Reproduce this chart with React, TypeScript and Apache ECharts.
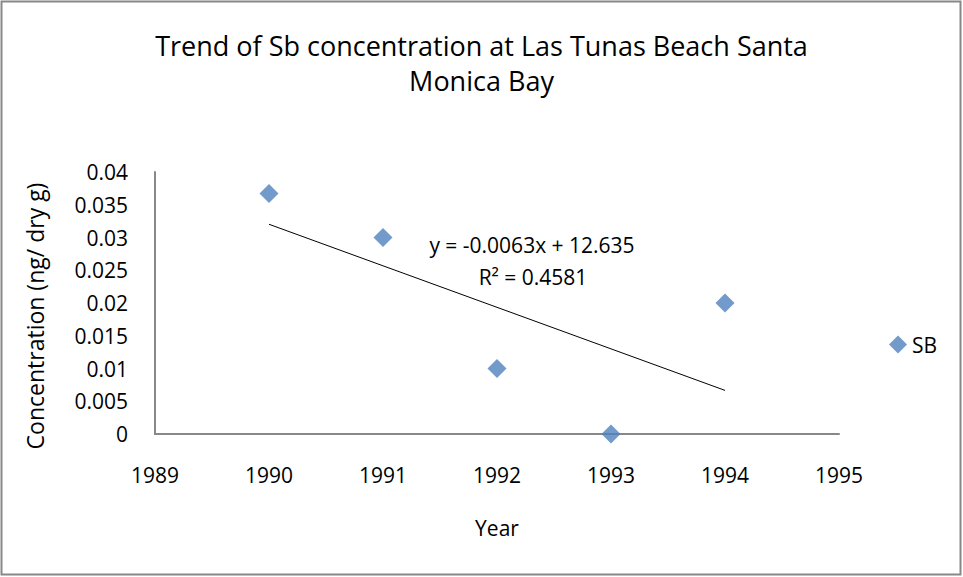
import React, { useEffect, useRef } from "react";
import * as echarts from "echarts";

const years = [1990, 1991, 1992, 1993, 1994];
const sbValues = [0.0367, 0.03, 0.01, 0.0, 0.02];
const seriesName = "SB";
const titleText = "Trend of Sb concentration at Las Tunas Beach Santa\nMonica Bay";
const equationText = "y = -0.0063x + 12.635";
const r2Text = "R² = 0.4581";

function regression(xs: number[], ys: number[]) {
  const n = xs.length;
  const mx = xs.reduce((a, b) => a + b, 0) / n;
  const my = ys.reduce((a, b) => a + b, 0) / n;
  let sxy = 0, sxx = 0;
  for (let i = 0; i < n; i++) {
    sxy += (xs[i] - mx) * (ys[i] - my);
    sxx += (xs[i] - mx) * (xs[i] - mx);
  }
  const slope = sxy / sxx;
  return { slope, intercept: my - slope * mx };
}

const FONT = "'Open Sans', 'Noto Sans', sans-serif";
const FS = 21;

export default function App() {
  const ref = useRef<HTMLDivElement>(null);
  useEffect(() => {
    if (!ref.current) return;
    const chart = echarts.init(ref.current, undefined, { renderer: "svg" });
    const { slope, intercept } = regression(years, sbValues);
    const x0 = years[0];
    const x1 = years[years.length - 1];
    const trend = [
      [x0, slope * x0 + intercept],
      [x1, slope * x1 + intercept],
    ];
    chart.setOption({
      animation: false,
      backgroundColor: "#ffffff",
      title: {
        text: titleText,
        left: "center",
        top: 23,
        textStyle: {
          fontFamily: FONT,
          fontSize: 27,
          fontWeight: "normal",
          color: "#000",
          lineHeight: 35,
        },
      },
      grid: { left: 155, right: 124, top: 172, bottom: 143, containLabel: false },
      xAxis: {
        type: "value",
        min: 1989,
        max: 1995,
        interval: 1,
        name: "Year",
        nameLocation: "middle",
        nameGap: 83,
        nameTextStyle: { fontFamily: FONT, fontSize: FS, color: "#000" },
        axisLine: { show: true, lineStyle: { color: "#888", width: 2 } },
        axisTick: { show: false },
        splitLine: { show: false },
        axisLabel: {
          fontFamily: FONT,
          fontSize: FS,
          color: "#000",
          margin: 30,
          formatter: (v: number) => String(v),
        },
      },
      yAxis: {
        type: "value",
        min: 0,
        max: 0.04,
        interval: 0.005,
        name: "Concentration (ng/ dry g)",
        nameLocation: "middle",
        nameGap: 109,
        nameTextStyle: {
          fontFamily: FONT,
          fontSize: 23,
          color: "#000",
          padding: [0, 26, 0, 0],
        },
        axisLine: { show: true, lineStyle: { color: "#888", width: 2 } },
        axisTick: { show: false },
        splitLine: { show: false },
        axisLabel: { fontFamily: FONT, fontSize: FS, color: "#000", margin: 27 },
      },
      legend: {
        data: [{ name: seriesName, icon: "diamond" }],
        left: 884,
        top: 329,
        itemWidth: 18,
        itemHeight: 18,
        itemGap: 4,
        textStyle: { fontFamily: FONT, fontSize: FS, color: "#000" },
      },
      series: [
        {
          name: seriesName,
          type: "scatter",
          symbol: "diamond",
          symbolSize: 19,
          itemStyle: { color: "#4F81BD" },
          data: years.map((y, i) => [y, sbValues[i]]),
          z: 3,
        },
        {
          name: "trend",
          type: "line",
          data: trend,
          symbol: "none",
          lineStyle: { color: "#000", width: 1 },
          z: 2,
        },
      ],
      graphic: [
        {
          type: "rect",
          shape: { x: 1.5, y: 1.5, width: 959, height: 573 },
          style: { fill: "none", stroke: "#888", lineWidth: 2 },
          silent: true,
        },
        {
          type: "text",
          x: 532,
          y: 245,
          style: {
            text: equationText,
            fontFamily: FONT,
            fontSize: FS,
            fill: "#000",
            align: "center",
            verticalAlign: "middle",
          },
        },
        {
          type: "text",
          x: 533,
          y: 277,
          style: {
            text: r2Text,
            fontFamily: FONT,
            fontSize: FS,
            fill: "#000",
            align: "center",
            verticalAlign: "middle",
          },
        },
      ],
    });
    return () => chart.dispose();
  }, []);
  return (
    <div
      ref={ref}
      style={{ position: "fixed", left: 0, top: 0, width: 963, height: 577 }}
    />
  );
}
